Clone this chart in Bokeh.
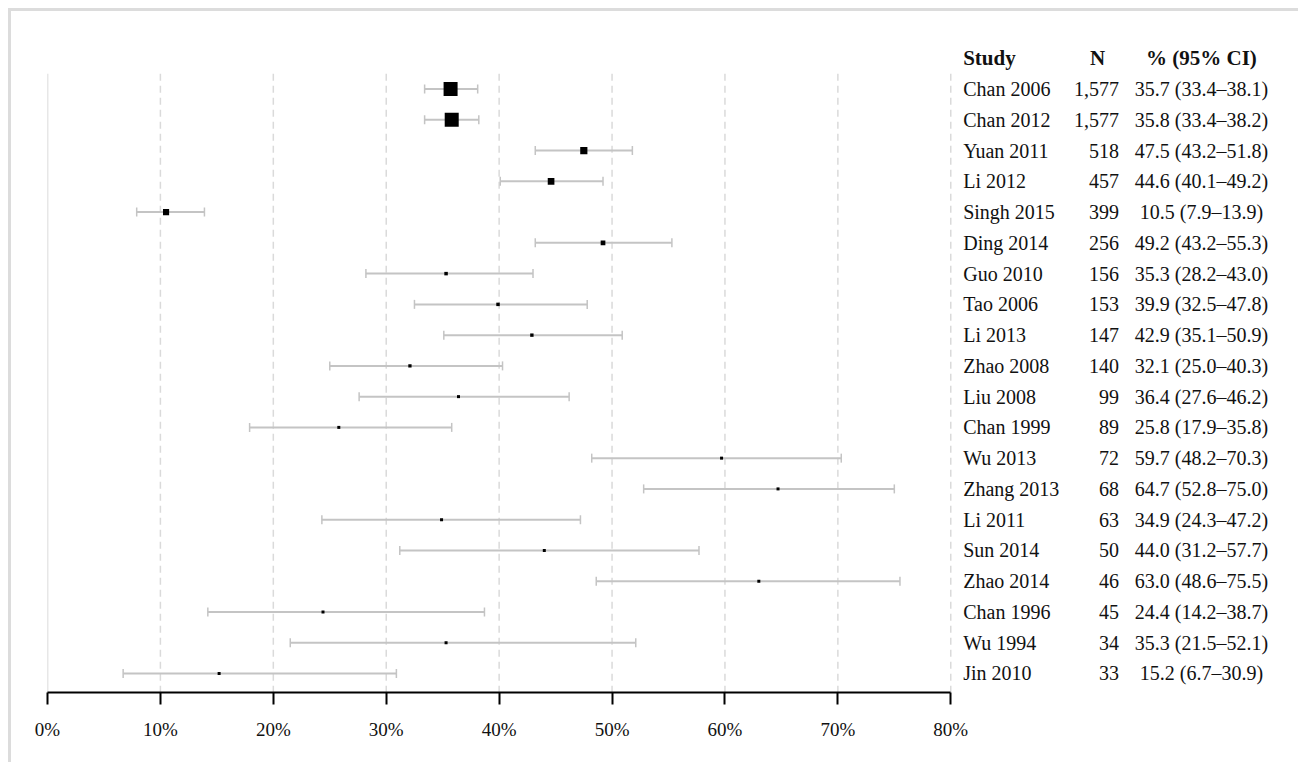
import math
from bokeh.plotting import figure
from bokeh.models import Range1d, ColumnDataSource, FixedTicker
from bokeh.core.properties import value
from bokeh.embed import file_html
from bokeh.resources import INLINE

studies = ["Chan 2006", "Chan 2012", "Yuan 2011", "Li 2012", "Singh 2015", "Ding 2014",
           "Guo 2010", "Tao 2006", "Li 2013", "Zhao 2008", "Liu 2008", "Chan 1999",
           "Wu 2013", "Zhang 2013", "Li 2011", "Sun 2014", "Zhao 2014", "Chan 1996",
           "Wu 1994", "Jin 2010"]
n_sizes = [1577, 1577, 518, 457, 399, 256, 156, 153, 147, 140, 99, 89, 72, 68, 63, 50, 46, 45, 34, 33]
estimates = [35.7, 35.8, 47.5, 44.6, 10.5, 49.2, 35.3, 39.9, 42.9, 32.1, 36.4, 25.8,
             59.7, 64.7, 34.9, 44.0, 63.0, 24.4, 35.3, 15.2]
ci_low = [33.4, 33.4, 43.2, 40.1, 7.9, 43.2, 28.2, 32.5, 35.1, 25.0, 27.6, 17.9,
          48.2, 52.8, 24.3, 31.2, 48.6, 14.2, 21.5, 6.7]
ci_high = [38.1, 38.2, 51.8, 49.2, 13.9, 55.3, 43.0, 47.8, 50.9, 40.3, 46.2, 35.8,
           70.3, 75.0, 47.2, 57.7, 75.5, 38.7, 52.1, 30.9]
tick_values = [0, 10, 20, 30, 40, 50, 60, 70, 80]
tick_labels = ["0%", "10%", "20%", "30%", "40%", "50%", "60%", "70%", "80%"]
headers = ["Study", "N", "% (95% CI)"]

FONT = "Liberation Serif"
rows = list(range(1, len(studies) + 1))
msize = [max(3.0, 14.0 * (v / max(n_sizes)) ** 0.6) for v in n_sizes]
n_txt = ["{:,}".format(v) for v in n_sizes]
ci_txt = ["{:.1f} ({:.1f}\u2013{:.1f})".format(e, l, h) for e, l, h in zip(estimates, ci_low, ci_high)]

src = ColumnDataSource(dict(y=rows, est=estimates, lo=ci_low, hi=ci_high, size=msize,
                            study=studies, ntxt=n_txt, ci=ci_txt))

y_bottom = 20.62
y_top = -0.58
p = figure(width=1290, height=754, output_backend="svg", toolbar_location=None,
           x_range=Range1d(0, 110), y_range=Range1d(y_bottom, y_top),
           min_border_left=36, min_border_right=12, min_border_top=29, min_border_bottom=73)
p.styles = {"border-left": "3px solid #dcdcdc", "border-top": "3px solid #dcdcdc",
            "margin-left": "8px", "margin-top": "8px"}
p.outline_line_color = None
p.xgrid.grid_line_color = None
p.ygrid.grid_line_color = None
p.yaxis.visible = False

# vertical reference lines
p.segment(x0=[0], y0=[0.5], x1=[0], y1=[y_bottom], line_color="#d0d0d0", line_width=1.5)
p.segment(x0=tick_values[1:], y0=[0.5] * 8, x1=tick_values[1:], y1=[y_bottom] * 8,
          line_color="#dadada", line_width=1.5, line_dash="7 5")

# CI bars
p.segment(x0="lo", y0="y", x1="hi", y1="y", source=src, line_color="#c4c4c4", line_width=2)
p.scatter(x="lo", y="y", source=src, marker="dash", angle=math.pi / 2, size=9,
          line_color="#c4c4c4", line_width=1.5)
p.scatter(x="hi", y="y", source=src, marker="dash", angle=math.pi / 2, size=9,
          line_color="#c4c4c4", line_width=1.5)
p.scatter(x="est", y="y", source=src, marker="square", size="size",
          fill_color="black", line_color="black", line_width=0)

# table text
p.text(x=81.1, y="y", text="study", source=src, text_font=value(FONT), text_font_size="20px",
       text_align="left", text_baseline="middle", text_color="#111111")
p.text(x=94.9, y="y", text="ntxt", source=src, text_font=value(FONT), text_font_size="20px",
       text_align="right", text_baseline="middle", text_color="#111111")
p.text(x=102.2, y="y", text="ci", source=src, text_font=value(FONT), text_font_size="20px",
       text_align="center", text_baseline="middle", text_color="#111111")
p.text(x=[81.1, 93.0, 102.2], y=[0, 0, 0], text=headers, text_font=value(FONT),
       text_font_size="21px", text_font_style="bold",
       text_align=["left", "center", "center"], text_baseline="middle", text_color="#111111")

ax = p.xaxis[0]
ax.bounds = (0, 80)
ax.ticker = FixedTicker(ticks=tick_values)
ax.major_label_overrides = {v: s for v, s in zip(tick_values, tick_labels)}
ax.minor_tick_line_color = None
ax.major_tick_in = 0
ax.major_tick_out = 12
ax.axis_line_width = 2
ax.axis_line_color = "black"
ax.major_tick_line_width = 2
ax.major_tick_line_color = "black"
ax.major_label_standoff = 14
ax.major_label_text_font = FONT
ax.major_label_text_font_size = "19px"
ax.major_label_text_color = "#111111"

open("out.html", "w").write(file_html(p, INLINE))
